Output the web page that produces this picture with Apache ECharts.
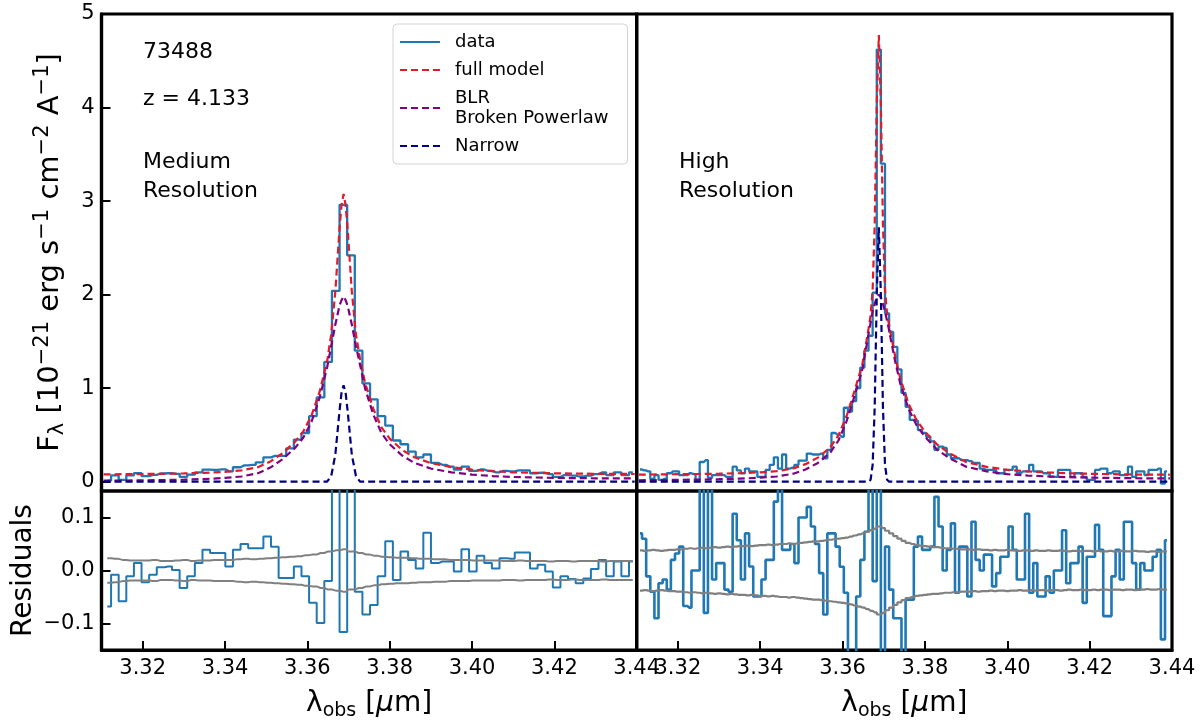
<!DOCTYPE html>
<html><head><meta charset="utf-8">
<script src="https://cdn.jsdelivr.net/npm/echarts@6/dist/echarts.min.js"></script>
<style>html,body{margin:0;padding:0;background:#fff}#c{width:1200px;height:722px}</style>
</head><body><div id="c"></div>
<script>
// ---------- Medium resolution (left) ----------
const medWave = [3.3114,3.31325,3.3151,3.31695,3.3188,3.32065,3.3225,3.32435,3.3262,3.32805,
3.3299,3.33175,3.3336,3.33545,3.3373,3.33915,3.341,3.34285,3.3447,3.34655,
3.3484,3.35025,3.3521,3.35395,3.3558,3.35765,3.3595,3.36135,3.3632,3.36505,
3.3669,3.36875,3.3706,3.37245,3.3743,3.37615,3.378,3.37985,3.3817,3.38355,
3.3854,3.38725,3.3891,3.39095,3.3928,3.39465,3.3965,3.39835,3.4002,3.40205,
3.4039,3.40575,3.4076,3.40945,3.4113,3.41315,3.415,3.41685,3.4187,3.42055,
3.4224,3.42425,3.4261,3.42795,3.4298,3.43165,3.4335,3.43535,3.4372,3.43905];
const medFlux = [0.01,0.067,0.02,0.066,0.092,0.058,0.072,0.087,0.09,0.084,
0.052,0.075,0.10,0.129,0.126,0.131,0.11,0.154,0.175,0.18,
0.207,0.26,0.275,0.276,0.356,0.45,0.52,0.70,0.90,1.28,
2.04,2.96,2.42,1.40,1.05,0.88,0.70,0.60,0.44,0.40,
0.32,0.26,0.29,0.20,0.18,0.16,0.13,0.16,0.115,0.13,
0.115,0.10,0.115,0.11,0.12,0.12,0.09,0.095,0.08,0.05,
0.07,0.065,0.055,0.065,0.08,0.10,0.07,0.10,0.07,0.10];
const medResid = [-0.068,-0.008,-0.058,-0.011,0.014,-0.022,-0.008,0.006,0.0075,0.001,
-0.033,-0.011,0.014,0.039,0.033,0.033,0.0075,0.039,0.05,0.042,
0.042,0.064,0.045,-0.014,-0.014,0.0075,-0.011,-0.061,-0.099,-0.02,
0.4,-0.116,0.4,-0.04,-0.083,-0.065,-0.011,0.055,-0.018,0.036,
0.02,0.004,0.071,0.014,0.017,0.017,-0.002,0.04,-0.002,0.028,
0.014,0.004,0.023,0.022,0.034,0.034,0.004,0.011,-0.002,-0.032,
-0.011,-0.016,-0.024,-0.015,0.003,0.02,-0.011,0.017,-0.011,0.017];
const medErr = [0.023,0.022,0.02,0.019,0.019,0.019,0.02,0.018,0.018,0.019,
0.02,0.018,0.019,0.019,0.02,0.02,0.02,0.021,0.022,0.021,
0.022,0.023,0.024,0.025,0.026,0.027,0.029,0.03,0.033,0.036,
0.038,0.04,0.036,0.033,0.03,0.028,0.026,0.025,0.024,0.024,
0.023,0.022,0.022,0.021,0.021,0.02,0.02,0.02,0.019,0.019,
0.019,0.019,0.018,0.018,0.019,0.018,0.018,0.018,0.017,0.018,
0.018,0.017,0.018,0.018,0.018,0.017,0.018,0.018,0.018,0.018];
const medModelWave = [3.3105,3.315,3.320,3.325,3.330,3.335,3.340,3.344,3.348,3.351,
3.354,3.357,3.359,3.361,3.363,3.3648,3.3658,3.3668,3.3678,3.3683,
3.3688,3.3693,3.3698,3.3708,3.3718,3.3728,3.374,3.376,3.378,3.380,
3.383,3.386,3.390,3.395,3.400,3.405,3.410,3.415,3.420,3.425,
3.430,3.435,3.4395];
const medFull = [0.078,0.08,0.082,0.084,0.088,0.094,0.105,0.12,0.155,0.215,
0.305,0.425,0.535,0.705,0.965,1.285,1.575,2.035,2.695,2.955,
3.075,2.955,2.695,2.035,1.575,1.31,1.06,0.78,0.58,0.46,
0.34,0.26,0.198,0.155,0.128,0.112,0.1,0.094,0.089,0.086,
0.084,0.083,0.082];
const medBLR = [0.01,0.012,0.014,0.017,0.021,0.028,0.04,0.055,0.09,0.15,
0.24,0.36,0.47,0.64,0.90,1.22,1.45,1.68,1.88,1.94,
1.98,1.94,1.88,1.68,1.45,1.25,1.0,0.72,0.52,0.40,
0.28,0.20,0.14,0.10,0.075,0.06,0.05,0.045,0.04,0.038,
0.036,0.035,0.034];
const medNarrow = [0,0,0,0,0,0,0,0,0,0,
0,0,0,0,0,0,0.06,0.29,0.75,0.95,
1.03,0.95,0.75,0.29,0.06,0,0,0,0,0,
0,0,0,0,0,0,0,0,0,0,
0,0,0];

// ---------- High resolution (right) ----------
const highWave = [3.3108,3.3118,3.3128,3.3138,3.3148,3.3158,3.3168,3.3178,3.3188,3.3198,
3.3208,3.3218,3.3228,3.3238,3.3248,3.3258,3.3268,3.3278,3.3288,3.3298,
3.3308,3.3318,3.3328,3.3338,3.3348,3.3358,3.3368,3.3378,3.3388,3.3398,
3.3408,3.3418,3.3428,3.3438,3.3448,3.3458,3.3468,3.3478,3.3488,3.3498,
3.3508,3.3518,3.3528,3.3538,3.3548,3.3558,3.3568,3.3578,3.3588,3.3598,
3.3608,3.3618,3.3628,3.3638,3.3648,3.3658,3.3668,3.3678,3.3688,3.3698,
3.3708,3.3718,3.3728,3.3738,3.3748,3.3758,3.3768,3.3778,3.3788,3.3798,
3.3808,3.3818,3.3828,3.3838,3.3848,3.3858,3.3868,3.3878,3.3888,3.3898,
3.3908,3.3918,3.3928,3.3938,3.3948,3.3958,3.3968,3.3978,3.3988,3.3998,
3.4008,3.4018,3.4028,3.4038,3.4048,3.4058,3.4068,3.4078,3.4088,3.4098,
3.4108,3.4118,3.4128,3.4138,3.4148,3.4158,3.4168,3.4178,3.4188,3.4198,
3.4208,3.4218,3.4228,3.4238,3.4248,3.4258,3.4268,3.4278,3.4288,3.4298,
3.4308,3.4318,3.4328,3.4338,3.4348,3.4358,3.4368,3.4378,3.4388];
const highFlux = [0.13,0.12,0.11,0.03,0.07,0.02,0.03,0.09,0.11,0.11,
0.07,0.07,0.09,0.08,0.02,0.21,0.23,0.04,0.07,0.07,
0.07,0.05,0.05,0.16,0.12,0.09,0.14,0.11,0.11,0.05,
0.05,0.125,0.18,0.26,0.14,0.29,0.14,0.15,0.18,0.225,
0.225,0.30,0.29,0.29,0.30,0.25,0.34,0.52,0.50,0.48,
0.79,0.75,0.86,1.0,1.22,1.4,1.56,2.02,4.62,3.4,
1.8,1.6,1.44,1.2,0.95,0.8,0.66,0.65,0.55,0.52,
0.48,0.43,0.34,0.375,0.36,0.29,0.25,0.25,0.23,0.23,
0.22,0.2,0.2,0.14,0.125,0.125,0.125,0.09,0.09,0.125,
0.125,0.16,0.09,0.11,0.11,0.18,0.11,0.11,0.09,0.09,
0.05,0.05,0.125,0.125,0.125,0.05,0.09,0.09,0.05,0.02,
0.02,0.125,0.14,0.14,0.09,0.11,0.11,0.07,0.07,0.16,
0.05,0.11,0.11,0.07,0.125,0.125,0.14,-0.02,0.11];
const highResid = [0.07,0.06,-0.011,-0.04,-0.09,-0.024,-0.017,-0.036,0.02,0.032,
0.045,-0.067,-0.07,0.0,0.0,0.16,-0.08,0.2,-0.017,0.014,
0.014,-0.036,-0.04,0.107,0.057,-0.017,0.07,0.0075,-0.049,-0.049,
-0.017,0.02,0.02,0.13,0.17,0.039,0.039,0.05,0.014,0.1,
0.1,0.12,0.083,0.05,-0.005,-0.083,0.07,0.07,0.045,0.007,
-0.042,-0.2,-0.2,-0.049,0.02,0.073,0.2,-0.02,0.2,-0.2,
0.045,-0.036,-0.09,-0.09,-0.2,-0.055,-0.055,0.045,0.064,0.039,
0.039,0.045,0.139,0.083,0.0,0.039,0.089,-0.042,0.045,0.045,
-0.049,0.092,0.02,0.0,0.03,0.03,-0.03,-0.005,0.026,0.026,
0.083,0.039,-0.017,-0.017,0.107,-0.042,0.014,-0.049,-0.049,-0.011,
-0.042,0.0,0.0,0.076,-0.024,0.014,0.014,0.045,-0.061,0.026,
0.026,0.086,0.039,-0.086,-0.086,-0.011,0.039,-0.017,0.092,0.092,
0.014,-0.036,0.014,0.0,0.0,0.026,0.039,-0.13,0.057];
const highErr = [0.038,0.037,0.038,0.039,0.038,0.037,0.038,0.039,0.039,0.04,
0.04,0.041,0.042,0.041,0.042,0.043,0.042,0.043,0.044,0.043,
0.044,0.045,0.044,0.045,0.046,0.046,0.047,0.046,0.047,0.048,
0.048,0.049,0.048,0.049,0.05,0.05,0.051,0.05,0.051,0.052,
0.053,0.054,0.055,0.055,0.056,0.057,0.058,0.059,0.06,0.061,
0.062,0.064,0.066,0.068,0.07,0.073,0.076,0.079,0.083,0.08,
0.075,0.07,0.065,0.06,0.056,0.052,0.05,0.048,0.047,0.046,
0.045,0.044,0.044,0.043,0.042,0.042,0.041,0.041,0.04,0.04,
0.04,0.039,0.04,0.039,0.039,0.038,0.039,0.038,0.038,0.039,
0.038,0.038,0.037,0.038,0.038,0.037,0.038,0.037,0.037,0.038,
0.037,0.037,0.038,0.037,0.036,0.037,0.037,0.036,0.037,0.037,
0.036,0.037,0.036,0.036,0.037,0.036,0.036,0.037,0.036,0.036,
0.037,0.036,0.036,0.035,0.036,0.036,0.035,0.036,0.036];
const highModelWave = [3.3105,3.315,3.320,3.325,3.330,3.335,3.340,3.344,3.348,3.351,
3.354,3.357,3.359,3.361,3.363,3.3648,3.3658,3.3663,3.3668,3.3673,
3.3678,3.3683,3.3688,3.3693,3.3698,3.3703,3.3708,3.3713,3.3718,3.3728,
3.374,3.376,3.378,3.380,3.383,3.386,3.390,3.395,3.400,3.405,
3.410,3.415,3.420,3.425,3.430,3.435,3.4395];
const highFull = [0.075,0.077,0.08,0.082,0.085,0.09,0.10,0.112,0.142,0.187,
0.257,0.366,0.495,0.705,0.985,1.255,1.505,1.635,1.775,2.055,
2.755,4.025,4.775,4.025,2.755,2.055,1.795,1.675,1.555,1.335,
1.105,0.835,0.655,0.535,0.395,0.303,0.21,0.158,0.126,0.109,
0.098,0.09,0.084,0.08,0.077,0.075,0.074];
const highBLR = [0.015,0.017,0.02,0.022,0.026,0.032,0.042,0.055,0.085,0.13,
0.2,0.31,0.44,0.65,0.93,1.2,1.45,1.58,1.7,1.82,
1.9,1.97,2.0,1.97,1.9,1.82,1.72,1.62,1.5,1.28,
1.05,0.78,0.6,0.48,0.34,0.25,0.16,0.11,0.08,0.065,
0.055,0.048,0.043,0.04,0.037,0.035,0.034];
const highNarrow = [0,0,0,0,0,0,0,0,0,0,
0,0,0,0,0,0,0,0,0.02,0.18,
0.8,2.0,2.72,2.0,0.8,0.18,0.02,0,0,0,
0,0,0,0,0,0,0,0,0,0,
0,0,0,0,0,0,0];

// ---------- Ticks / labels ----------
const xTicks = [3.32,3.34,3.36,3.38,3.40,3.42,3.44];
const fluxTicks = [0,1,2,3,4,5];
const residTicks = [-0.1,0,0.1];
const legendNames = ['data','full model','BLR\nBroken Powerlaw','Narrow'];

const FONT = 'DejaVu Sans';
const C_DATA = '#1f77b4', C_FULL = '#e31a2c', C_BLR = '#800080', C_NAR = '#000080', C_ERR = '#808080';
const pairs = (xs, ys) => xs.map((x, i) => [x, ys[i]]);
const neg = a => a.map(v => -v);

function stepSeries(name, x, y, xi, yi, color, w) {
  return {name, type:'line', step:'middle', xAxisIndex:xi, yAxisIndex:yi, data:pairs(x,y),
    symbol:'none', showSymbol:false, clip:true, lineStyle:{color, width:w}, itemStyle:{color}, z:2};
}
function dashSeries(name, x, y, xi, yi, color) {
  return {name, type:'line', xAxisIndex:xi, yAxisIndex:yi, data:pairs(x,y),
    symbol:'none', showSymbol:false, clip:true, lineStyle:{color, width:2.2, type:[7,4]}, itemStyle:{color}, z:3};
}

const gridBase = {show:true, borderColor:'#000', borderWidth:3.2, backgroundColor:'transparent', containLabel:false};
const grids = [
  Object.assign({left:101.5, top:14, width:535.2, height:477}, gridBase),
  Object.assign({left:636.7, top:14, width:535.3, height:477}, gridBase),
  Object.assign({left:101.5, top:491, width:535.2, height:161}, gridBase),
  Object.assign({left:636.7, top:491, width:535.3, height:161}, gridBase)
];

const xName = '{t|λ}{s|obs}{t| [}{i|μ}{t|m]}';
const xNameStyle = {color:'#000', rich:{
  t:{fontSize:28, fontFamily:FONT, lineHeight:34, color:'#000'},
  s:{fontSize:19, fontFamily:FONT, lineHeight:18, verticalAlign:'bottom', color:'#000'},
  i:{fontSize:28, fontFamily:FONT, fontStyle:'italic', lineHeight:34, color:'#000'}}};

function xAxisTop(gi) {
  return {type:'value', gridIndex:gi, min:3.31, max:3.44, axisLine:{show:false, onZero:false}, axisTick:{show:false},
    axisLabel:{show:false}, splitLine:{show:false}};
}
function xAxisBottom(gi) {
  return {type:'value', gridIndex:gi, min:3.31, max:3.44, position:'bottom',
    axisLine:{show:true, onZero:false, lineStyle:{color:'#000', width:3.2}},
    axisTick:{show:true, inside:true, length:9, lineStyle:{color:'#000', width:2}, customValues:xTicks},
    axisLabel:{show:true, customValues:xTicks, formatter:v => Number(v).toFixed(2), fontSize:21, fontFamily:FONT, color:'#000', margin:8},
    splitLine:{show:false},
    name:xName, nameLocation:'middle', nameGap:37, nameTextStyle:xNameStyle};
}

const option = {
  animation:false,
  backgroundColor:'#fff',
  textStyle:{fontFamily:FONT},
  grid:grids,
  legend:{
    data:legendNames, orient:'vertical', left:393, top:24,
    itemWidth:40, itemHeight:12, itemGap:8,
    padding:[8,19,8,6],
    backgroundColor:'#fff', borderColor:'#d4d4d4', borderWidth:1, borderRadius:4,
    itemStyle:{opacity:0, borderWidth:0},
    textStyle:{fontSize:18, fontFamily:FONT, color:'#000', lineHeight:20, padding:[0,0,0,10]},
    selectedMode:false
  },
  xAxis:[xAxisTop(0), xAxisTop(1), xAxisBottom(2), xAxisBottom(3)],
  yAxis:[
    {type:'value', gridIndex:0, min:-0.1, max:5,
      axisLine:{show:true, onZero:false, lineStyle:{color:'#000', width:3.2}},
      axisTick:{show:true, inside:true, length:9, lineStyle:{color:'#000', width:2}, customValues:fluxTicks},
      axisLabel:{customValues:fluxTicks, formatter:v => String(Math.round(v)), fontSize:21, fontFamily:FONT, color:'#000', margin:7},
      splitLine:{show:false},
      name:'{t|F}{s|λ}{t| [10}{u|−21}{t| erg s}{u|−1}{t| cm}{u|−2}{t| A}{u|−1}{t|]}',
      nameLocation:'middle', nameRotate:90, nameGap:33,
      nameTextStyle:{color:'#000', rich:{
        t:{fontSize:29, fontFamily:FONT, lineHeight:36, color:'#000'},
        s:{fontSize:21, fontFamily:FONT, lineHeight:22, verticalAlign:'bottom', color:'#000'},
        u:{fontSize:21, fontFamily:FONT, lineHeight:14, verticalAlign:'top', color:'#000'}}}},
    {type:'value', gridIndex:1, min:-0.1, max:5, axisLine:{show:false, onZero:false}, axisTick:{show:false},
      axisLabel:{show:false}, splitLine:{show:false}},
    {type:'value', gridIndex:2, min:-0.15, max:0.15,
      axisLine:{show:true, onZero:false, lineStyle:{color:'#000', width:3.2}},
      axisTick:{show:true, inside:true, length:9, lineStyle:{color:'#000', width:2}, customValues:residTicks},
      axisLabel:{customValues:residTicks, formatter:v => Number(v).toFixed(1).replace('-', '−'), fontSize:21, fontFamily:FONT, color:'#000', margin:7},
      splitLine:{show:false},
      name:'Residuals', nameLocation:'middle', nameRotate:90, nameGap:64,
      nameTextStyle:{fontSize:28, fontFamily:FONT, color:'#000'}},
    {type:'value', gridIndex:3, min:-0.15, max:0.15, axisLine:{show:false, onZero:false}, axisTick:{show:false},
      axisLabel:{show:false}, splitLine:{show:false}}
  ],
  series:[
    stepSeries('data', medWave, medFlux, 0, 0, C_DATA, 2.3),
    dashSeries('full model', medModelWave, medFull, 0, 0, C_FULL),
    dashSeries('BLR\nBroken Powerlaw', medModelWave, medBLR, 0, 0, C_BLR),
    dashSeries('Narrow', medModelWave, medNarrow, 0, 0, C_NAR),
    stepSeries('data', highWave, highFlux, 1, 1, C_DATA, 2.3),
    dashSeries('full model', highModelWave, highFull, 1, 1, C_FULL),
    dashSeries('BLR\nBroken Powerlaw', highModelWave, highBLR, 1, 1, C_BLR),
    dashSeries('Narrow', highModelWave, highNarrow, 1, 1, C_NAR),
    stepSeries('data', medWave, medResid, 2, 2, C_DATA, 2),
    stepSeries('err+', medWave, medErr, 2, 2, C_ERR, 2),
    stepSeries('err-', medWave, neg(medErr), 2, 2, C_ERR, 2),
    stepSeries('data', highWave, highResid, 3, 3, C_DATA, 2.6),
    stepSeries('err+', highWave, highErr, 3, 3, C_ERR, 2.2),
    stepSeries('err-', highWave, neg(highErr), 3, 3, C_ERR, 2.2)
  ],
  graphic:[
    {type:'text', x:143, y:52, style:{text:'73488', fontSize:22, fontFamily:FONT, fill:'#000', textAlign:'left', textVerticalAlign:'middle'}},
    {type:'text', x:143, y:99, style:{text:'z = 4.133', fontSize:22, fontFamily:FONT, fill:'#000', textAlign:'left', textVerticalAlign:'middle'}},
    {type:'text', x:143, y:148, style:{text:'Medium\nResolution', fontSize:22, lineHeight:29, fontFamily:FONT, fill:'#000', textAlign:'left', textVerticalAlign:'top'}},
    {type:'text', x:679, y:148, style:{text:'High\nResolution', fontSize:22, lineHeight:29, fontFamily:FONT, fill:'#000', textAlign:'left', textVerticalAlign:'top'}}
  ]
};

const chart = echarts.init(document.getElementById('c'), null, {renderer:'canvas'});
chart.setOption(option);
</script>
</body></html>
